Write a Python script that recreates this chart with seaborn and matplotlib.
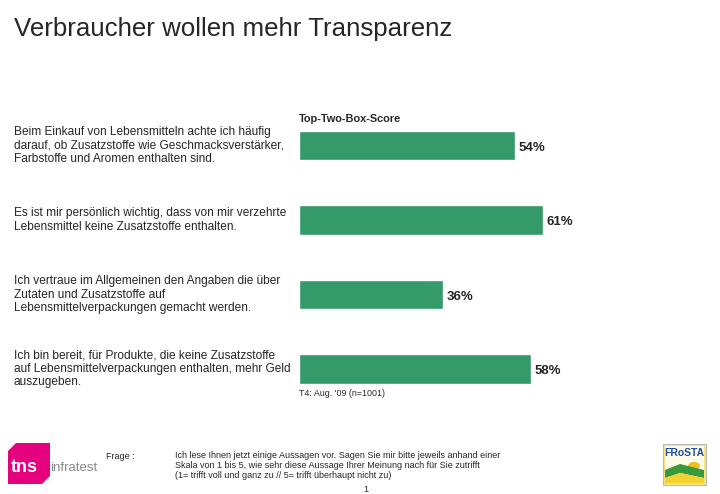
import numpy as np
import pandas as pd
import matplotlib
matplotlib.use("Agg")
import matplotlib.pyplot as plt
import seaborn as sns
from matplotlib.patches import Polygon, Rectangle, Circle

statements = [
    "Beim Einkauf von Lebensmitteln achte ich häufig\ndarauf, ob Zusatzstoffe wie Geschmacksverstärker,\nFarbstoffe und Aromen enthalten sind.",
    "Es ist mir persönlich wichtig, dass von mir verzehrte\nLebensmittel keine Zusatzstoffe enthalten.",
    "Ich vertraue im Allgemeinen den Angaben die über\nZutaten und Zusatzstoffe auf\nLebensmittelverpackungen gemacht werden.",
    "Ich bin bereit, für Produkte, die keine Zusatzstoffe\nauf Lebensmittelverpackungen enthalten, mehr Geld\nauszugeben.",
]
scores = [54, 61, 36, 58]
keys = ["s1", "s2", "s3", "s4"]

GREEN = "#359a6a"

sns.set_style("white")
plt.rcParams["font.family"] = ["Liberation Sans", "DejaVu Sans"]

fig = plt.figure(figsize=(7.2, 4.94), dpi=100)
ax = fig.add_axes([299 / 720, 1 - 406.25 / 494, 400 / 720, 298 / 494])

df = pd.DataFrame({"key": keys, "score": scores})
sns.barplot(data=df, x="score", y="key", color=GREEN, width=0.4,
            saturation=1, ax=ax)
ax.set_xlim(0, 100)
ax.set_ylim(3.5, -0.5)
ax.set_axis_off()

for i, (s, txt) in enumerate(zip(scores, statements)):
    ax.text(s + 0.8, i + 0.03, f"{s}%", va="center", ha="left",
            fontsize=9.5, fontweight="bold")
    ax.text(-285 / 4, i, txt, va="center", ha="left", fontsize=8.6,
            linespacing=1.13)

ax.text(0, -0.5 + (119 - 108.25) / 74.5, "Top-Two-Box-Score",
        ha="left", va="center", fontsize=7.9, fontweight="bold")
ax.text(0, 3.5 - (406.25 - 394) / 74.5, "T4: Aug. '09 (n=1001)",
        ha="left", va="center", fontsize=6.4)

fig.text(14 / 720, 1 - 29 / 494, "Verbraucher wollen mehr Transparenz",
         ha="left", va="center", fontsize=18.6)

# footer
fig.text(106 / 720, 1 - 456 / 494, "Frage :", ha="left", va="center", fontsize=6.5)
fig.text(175 / 720, 1 - 451 / 494,
         "Ich lese Ihnen jetzt einige Aussagen vor. Sagen Sie mir bitte jeweils anhand einer\n"
         "Skala von 1 bis 5, wie sehr diese Aussage Ihrer Meinung nach für Sie zutrifft\n"
         "(1= trifft voll und ganz zu // 5= trifft überhaupt nicht zu)",
         ha="left", va="top", fontsize=6.5, linespacing=1.15)
fig.text(366 / 720, 1 - 489 / 494, "1", ha="center", va="center", fontsize=6.5)


def fxy(x, y):
    return (x / 720, 1 - y / 494)


# tns infratest logo
fig.patches.append(Polygon([fxy(16, 443), fxy(50, 443), fxy(50, 476),
                            fxy(42, 484), fxy(8, 484), fxy(8, 451)],
                           closed=True, transform=fig.transFigure,
                           facecolor="#e5007e", edgecolor="none"))
fig.text(11 / 720, 1 - 467 / 494, "tns", color="white", fontsize=13,
         fontweight="bold", ha="left", va="center")
fig.text(50 / 720, 1 - 468 / 494, "infratest", color="#8a8a8a", fontsize=9.5,
         ha="left", va="center")

# FRoSTA logo
fig.patches.append(Rectangle(fxy(663, 485), 43 / 720, 41 / 494,
                             transform=fig.transFigure, facecolor="#f6e27a",
                             edgecolor="#bbbbbb", linewidth=0.8))
fig.patches.append(Rectangle(fxy(665, 483), 39 / 720, 37 / 494,
                             transform=fig.transFigure, facecolor="#fffbe8",
                             edgecolor="none"))
fig.patches.append(Circle(fxy(694, 466), 6 / 720, transform=fig.transFigure,
                          facecolor="#f0c020", edgecolor="none"))
fig.patches.append(Polygon([fxy(665, 470), fxy(680, 464), fxy(704, 470),
                            fxy(704, 478), fxy(680, 473), fxy(665, 478)],
                           closed=True, transform=fig.transFigure,
                           facecolor="#3a9a3a", edgecolor="none"))
fig.patches.append(Polygon([fxy(665, 478), fxy(680, 473), fxy(704, 478),
                            fxy(704, 483), fxy(665, 483)],
                           closed=True, transform=fig.transFigure,
                           facecolor="#f2d230", edgecolor="none"))
fig.text(684.5 / 720, 1 - 453 / 494, "FRoSTA", color="#1f4fa0", fontsize=7.5,
         fontweight="bold", ha="center", va="center")

fig.savefig("out.png", dpi=100)
